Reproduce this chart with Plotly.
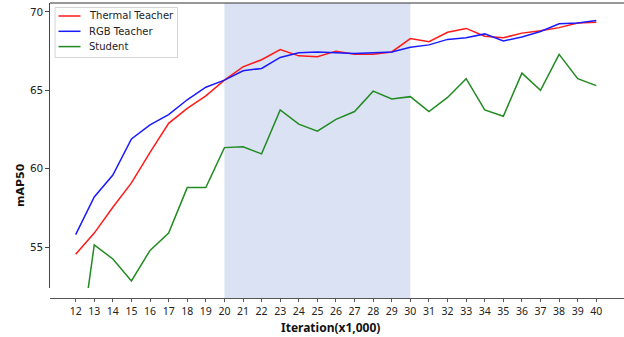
import plotly.graph_objects as go

iterations = list(range(12, 41))
thermal = [54.55, 55.9, 57.55, 59.1, 61.05, 62.9, 63.85, 64.65, 65.65, 66.5, 66.95, 67.6,
           67.2, 67.15, 67.5, 67.3, 67.3, 67.45, 68.3, 68.1, 68.7, 68.95, 68.45, 68.35,
           68.65, 68.8, 69.0, 69.3, 69.35]
rgb = [55.8, 58.2, 59.6, 61.9, 62.8, 63.45, 64.4, 65.2, 65.65, 66.25, 66.4, 67.1,
       67.4, 67.45, 67.4, 67.35, 67.4, 67.45, 67.75, 67.9, 68.25, 68.35, 68.6, 68.15,
       68.4, 68.75, 69.25, 69.3, 69.45]
student = [46.6, 55.15, 54.25, 52.85, 54.8, 55.9, 58.8, 58.8, 61.35, 61.4, 60.95, 63.75,
           62.85, 62.4, 63.15, 63.65, 64.95, 64.45, 64.6, 63.65, 64.55, 65.75, 63.75, 63.35,
           66.1, 65.0, 67.3, 65.75, 65.3]
series_names = ["Thermal Teacher", "RGB Teacher", "Student"]
series_colors = ["#ff1a1a", "#1a1aff", "#228b22"]
y_ticks = [55, 60, 65, 70]
x_title = "Iteration(x1,000)"
y_title = "mAP50"

W, H = 624, 337
ML, MR, MT, MB = 50, 0, 3, 39
PW, PH = W - ML - MR, H - MT - MB


def px_x(px):
    return (px - ML) / PW


def px_y(py):
    return (H - MB - py) / PH


fig = go.Figure()
for name, vals, col in zip(series_names, [thermal, rgb, student], series_colors):
    fig.add_trace(go.Scatter(x=iterations, y=vals, mode="lines", name=name,
                             line=dict(color=col, width=1.5), showlegend=False))

shapes = [
    dict(type="rect", xref="x", yref="paper", x0=20, x1=30, y0=0, y1=1,
         fillcolor="#dae2f3", line=dict(width=0), layer="below"),
    dict(type="line", xref="paper", yref="paper", x0=0, x1=1, y0=1, y1=1,
         line=dict(color="#333333", width=1.2)),
    # legend box
    dict(type="rect", xref="paper", yref="paper", x0=px_x(55), x1=px_x(177.5),
         y0=px_y(57.5), y1=px_y(7.5), fillcolor="rgba(255,255,255,0.85)",
         line=dict(color="#d4d4d4", width=1), layer="above"),
]
annotations = []
for i, (name, col) in enumerate(zip(series_names, series_colors)):
    ly = 16 + i * 15.3
    shapes.append(dict(type="line", xref="paper", yref="paper", x0=px_x(58.5), x1=px_x(80.5),
                       y0=px_y(ly), y1=px_y(ly), line=dict(color=col, width=1.5), layer="above"))
    annotations.append(dict(text=name, xref="paper", yref="paper", x=px_x(87), y=px_y(ly),
                            xanchor="left", yanchor="middle", showarrow=False,
                            font=dict(family="DejaVu Sans", size=10, color="#222222")))

annotations += [
    dict(text="<b>" + x_title + "</b>", xref="paper", yref="paper", x=px_x(330), y=px_y(327),
         xanchor="center", yanchor="middle", showarrow=False,
         font=dict(family="Noto Sans", size=12, color="#111111")),
    dict(text="<b>" + y_title + "</b>", xref="paper", yref="paper", x=px_x(20), y=px_y(185),
         xanchor="center", yanchor="middle", textangle=-90, showarrow=False,
         font=dict(family="DejaVu Sans", size=11, color="#111111")),
]

fig.update_layout(
    width=W, height=H,
    margin=dict(l=ML, r=MR, t=MT, b=MB, autoexpand=False),
    plot_bgcolor="white", paper_bgcolor="white",
    showlegend=False,
    shapes=shapes,
    annotations=annotations,
    xaxis=dict(range=[10.62, 41.49], tickmode="array", tickvals=iterations,
               ticktext=[str(i) for i in iterations], automargin=False,
               anchor="free", position=0, showline=True, linecolor="#555555", linewidth=1.2,
               ticks="outside", ticklen=3, tickcolor="#555555", showgrid=False, zeroline=False,
               tickfont=dict(family="Noto Sans", size=10.5, color="#222222")),
    yaxis=dict(range=[52.40, 70.57], domain=[px_y(288), 1], tickvals=y_ticks, automargin=False,
               showline=True, linecolor="#444444", linewidth=1.2,
               ticks="outside", ticklen=3.5, tickcolor="#444444", showgrid=False, zeroline=False,
               tickfont=dict(family="DejaVu Sans", size=10.5, color="#222222")),
)

fig.write_html("out.html", config={"displayModeBar": False},
               post_script="document.body.style.margin='0';document.body.style.padding='0';")
